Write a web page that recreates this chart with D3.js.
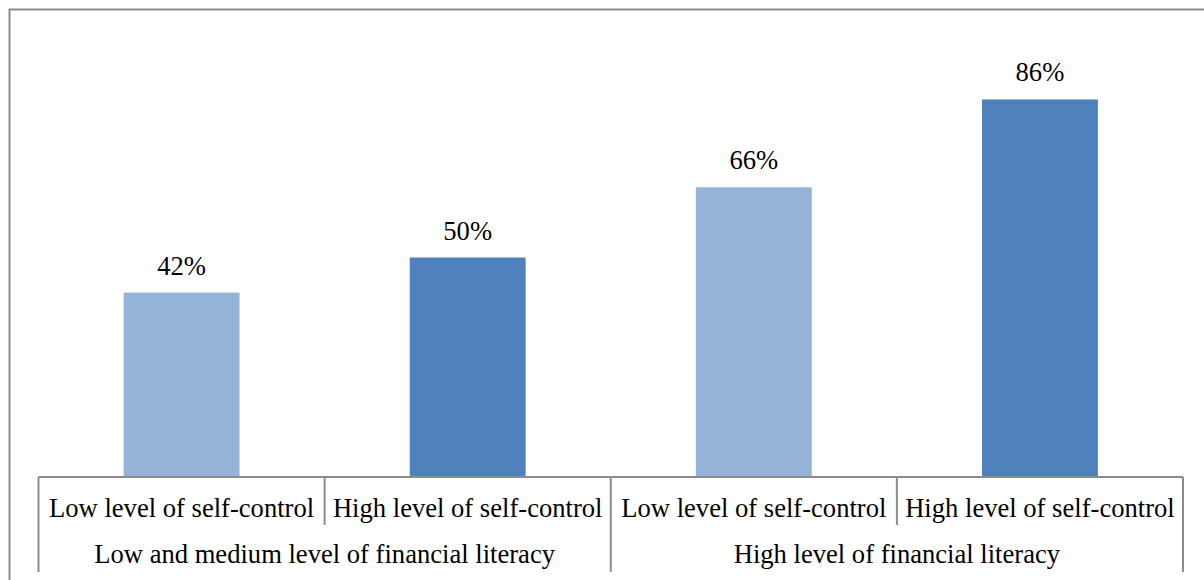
<!DOCTYPE html>
<html>
<head>
<meta charset="utf-8">
<script src="https://cdn.jsdelivr.net/npm/d3@7/dist/d3.min.js"></script>
<style>
  html, body { margin: 0; padding: 0; background: #fff; }
  svg { display: block; }
</style>
</head>
<body>
<svg id="chart" width="1204" height="580"></svg>
<script>
// Share of respondents, by self-control within financial-literacy group
const groups = ["Low and medium level of financial literacy", "High level of financial literacy"];
const categories = ["Low level of self-control", "High level of self-control",
                    "Low level of self-control", "High level of self-control"];
const groupOf = [0, 0, 1, 1];
const values = [42, 50, 66, 86];
const barColors = ["#95B3D7", "#4F81BD", "#95B3D7", "#4F81BD"];

const svg = d3.select("#chart");
const font = "'Liberation Serif', 'Times New Roman', serif";
const fontSize = 26.6;

// outer frame (top and left edges visible)
svg.append("path")
  .attr("d", "M9.5,580 V9.5 H1204")
  .attr("fill", "none").attr("stroke", "#8c8c8c").attr("stroke-width", 2);

const plot = { left: 38.5, right: 1183, top: 38, bottom: 477 };

const x = d3.scaleBand()
  .domain(d3.range(categories.length))
  .range([plot.left, plot.right])
  .paddingInner(0.595).paddingOuter(0.2975);

const y = d3.scaleLinear().domain([0, 100]).range([plot.bottom, plot.top]);

// bars
svg.append("g").selectAll("rect")
  .data(values)
  .join("rect")
  .attr("x", (d, i) => x(i))
  .attr("width", x.bandwidth())
  .attr("y", d => y(d))
  .attr("height", d => y(0) - y(d))
  .attr("fill", (d, i) => barColors[i]);

// value labels
svg.append("g").selectAll("text")
  .data(values)
  .join("text")
  .attr("x", (d, i) => x(i) + x.bandwidth() / 2)
  .attr("y", d => y(d) - 18)
  .attr("text-anchor", "middle")
  .attr("font-family", font).attr("font-size", fontSize).attr("fill", "#000")
  .text(d => d + "%");

// category axis with two label tiers
const step = (plot.right - plot.left) / categories.length;
const axis = svg.append("g").attr("stroke", "#8c8c8c").attr("stroke-width", 2);
axis.append("line")
  .attr("x1", plot.left).attr("x2", plot.right)
  .attr("y1", plot.bottom).attr("y2", plot.bottom);

const bounds = d3.range(categories.length + 1);
axis.selectAll("line.sep")
  .data(bounds)
  .join("line")
  .attr("class", "sep")
  .attr("x1", i => plot.left + i * step).attr("x2", i => plot.left + i * step)
  .attr("y1", plot.bottom)
  .attr("y2", i => (i % 2 === 0) ? 572 : 525);

svg.append("g").selectAll("text")
  .data(categories)
  .join("text")
  .attr("x", (d, i) => plot.left + (i + 0.5) * step)
  .attr("y", 517)
  .attr("text-anchor", "middle")
  .attr("font-family", font).attr("font-size", fontSize).attr("fill", "#000")
  .text(d => d);

svg.append("g").selectAll("text")
  .data(groups)
  .join("text")
  .attr("x", (d, gi) => {
    const idx = groupOf.map((g, i) => g === gi ? i : -1).filter(i => i >= 0);
    return plot.left + (d3.min(idx) + d3.max(idx) + 1) / 2 * step;
  })
  .attr("y", 563)
  .attr("text-anchor", "middle")
  .attr("font-family", font).attr("font-size", fontSize).attr("fill", "#000")
  .text(d => d);
</script>
</body>
</html>
